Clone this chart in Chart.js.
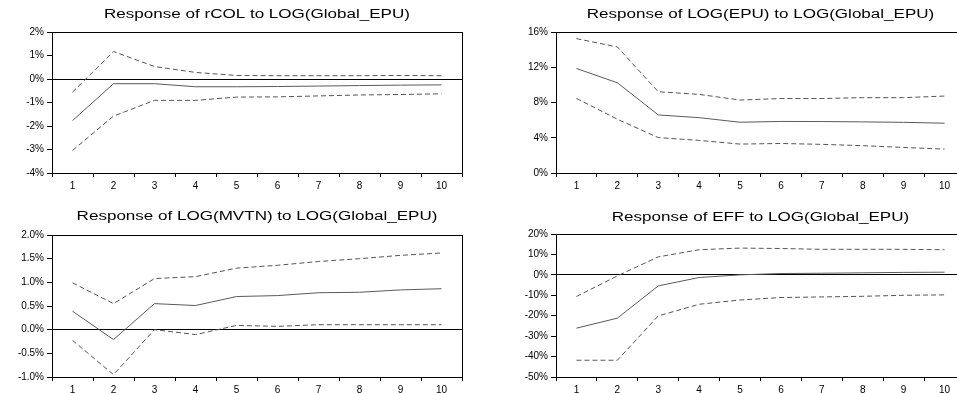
<!DOCTYPE html>
<html>
<head>
<meta charset="utf-8">
<script src="https://cdn.jsdelivr.net/npm/chart.js@4.4.1/dist/chart.umd.min.js"></script>
<style>
  html, body { margin: 0; padding: 0; background: #fff; }
  body { width: 957px; height: 393px; overflow: hidden; position: relative; }
  .panel { position: absolute; }
</style>
</head>
<body>
<div class="panel" style="left:0;top:0;width:478px;height:195px"><canvas id="c1"></canvas></div>
<div class="panel" style="left:478px;top:0;width:500px;height:195px"><canvas id="c2"></canvas></div>
<div class="panel" style="left:0;top:195px;width:478px;height:198px"><canvas id="c3"></canvas></div>
<div class="panel" style="left:478px;top:195px;width:500px;height:198px"><canvas id="c4"></canvas></div>
<script>
const periods = ["1", "2", "3", "4", "5", "6", "7", "8", "9", "10"];

// Response of rCOL to LOG(Global_EPU), in %
const colMid = [-1.77, -0.20, -0.20, -0.33, -0.33, -0.32, -0.30, -0.28, -0.26, -0.25];
const colUp = [-0.56, 1.17, 0.53, 0.28, 0.15, 0.14, 0.14, 0.14, 0.15, 0.14];
const colLo = [-3.04, -1.58, -0.91, -0.91, -0.77, -0.76, -0.72, -0.68, -0.66, -0.63];

// Response of LOG(EPU) to LOG(Global_EPU)
const epuMid = [11.86, 10.24, 6.59, 6.28, 5.76, 5.85, 5.84, 5.80, 5.75, 5.65];
const epuUp = [15.25, 14.30, 9.22, 8.92, 8.28, 8.45, 8.45, 8.55, 8.55, 8.73];
const epuLo = [8.47, 6.10, 4.02, 3.70, 3.28, 3.35, 3.25, 3.10, 2.90, 2.71];

// Response of LOG(MVTN) to LOG(Global_EPU)
const mvtnMid = [0.39, -0.21, 0.55, 0.51, 0.70, 0.72, 0.78, 0.79, 0.84, 0.865];
const mvtnUp = [0.99, 0.55, 1.08, 1.12, 1.30, 1.36, 1.44, 1.50, 1.57, 1.62];
const mvtnLo = [-0.225, -0.95, 0.0, -0.105, 0.09, 0.07, 0.105, 0.105, 0.105, 0.105];

// Response of EFF to LOG(Global_EPU)
const effMid = [-26.1, -21.2, -5.4, -1.3, 0.0, 0.65, 0.8, 1.0, 1.2, 1.3];
const effUp = [-10.6, -0.5, 8.8, 12.3, 13.1, 12.9, 12.5, 12.5, 12.5, 12.3];
const effLo = [-41.8, -41.8, -20.1, -14.4, -12.3, -11.1, -10.8, -10.5, -10.0, -9.8];

const FONT = "'Liberation Sans', Arial, sans-serif";

// title (stretched wide like the original) + box around plot area
const framePlugin = {
    id: "frame",
    afterDraw(chart, args, opts) {
        const ctx = chart.ctx;
        const a = chart.chartArea;
        ctx.save();
        ctx.strokeStyle = "#000";
        ctx.lineWidth = 1;
        ctx.strokeRect(Math.round(a.left) + 0.5, Math.round(a.top) + 0.5,
            Math.round(a.right - a.left), Math.round(a.bottom - a.top));
        ctx.fillStyle = "#000";
        ctx.font = "12px " + FONT;
        ctx.textAlign = "center";
        ctx.textBaseline = "middle";
        ctx.translate((a.left + a.right) / 2, opts.y);
        ctx.scale(1.42, 1);
        ctx.fillText(opts.text, 0, 0);
        ctx.restore();
    }
};

function makeChart(id, title, mid, up, lo, y, g) {
    const dashed = { borderColor: "#555", borderWidth: 1, borderDash: [5, 3], pointRadius: 0, tension: 0 };
    new Chart(document.getElementById(id), {
        type: "line",
        data: {
            labels: periods,
            datasets: [
                { data: mid, borderColor: "#5a5a5a", borderWidth: 1, pointRadius: 0, tension: 0 },
                Object.assign({ data: up }, dashed),
                Object.assign({ data: lo }, dashed)
            ]
        },
        options: {
            responsive: true,
            maintainAspectRatio: false,
            animation: false,
            events: [],
            layout: { padding: { left: 0, top: g.top, right: g.right, bottom: 0 } },
            plugins: {
                legend: { display: false },
                tooltip: { enabled: false },
                frame: { text: title, y: g.titleY }
            },
            scales: {
                x: {
                    offset: true,
                    grid: { offset: true, drawOnChartArea: false, tickLength: 4, tickColor: "#000" },
                    border: { color: "#000", width: 1 },
                    ticks: { color: "#000", font: { family: FONT, size: 10 }, padding: 3, maxRotation: 0 },
                    afterFit(s) { s.height = g.xh; }
                },
                y: {
                    min: y.min,
                    max: y.max,
                    grid: {
                        color: c => (c.tick && c.tick.value === 0 ? "#000" : "rgba(0,0,0,0)"),
                        tickColor: "#000",
                        tickLength: 5
                    },
                    border: { color: "#000", width: 1 },
                    ticks: {
                        stepSize: y.step,
                        color: "#000",
                        font: { family: FONT, size: 10 },
                        padding: 3,
                        callback: v => v.toFixed(y.dec) + "%"
                    },
                    afterFit(s) { s.width = g.yw; }
                }
            }
        },
        plugins: [framePlugin]
    });
}

makeChart("c1", "Response of rCOL to LOG(Global_EPU)", colMid, colUp, colLo,
    { min: -4, max: 2, step: 1, dec: 0 },
    { top: 32, right: 16, yw: 52, xh: 22, titleY: 15 });
makeChart("c2", "Response of LOG(EPU) to LOG(Global_EPU)", epuMid, epuUp, epuLo,
    { min: 0, max: 16, step: 4, dec: 0 },
    { top: 32, right: 13, yw: 78, xh: 22, titleY: 15 });
makeChart("c3", "Response of LOG(MVTN) to LOG(Global_EPU)", mvtnMid, mvtnUp, mvtnLo,
    { min: -1, max: 2, step: 0.5, dec: 1 },
    { top: 40, right: 16, yw: 52, xh: 16, titleY: 22 });
makeChart("c4", "Response of EFF to LOG(Global_EPU)", effMid, effUp, effLo,
    { min: -50, max: 20, step: 10, dec: 0 },
    { top: 39, right: 13, yw: 78, xh: 16, titleY: 23 });
</script>
</body>
</html>
